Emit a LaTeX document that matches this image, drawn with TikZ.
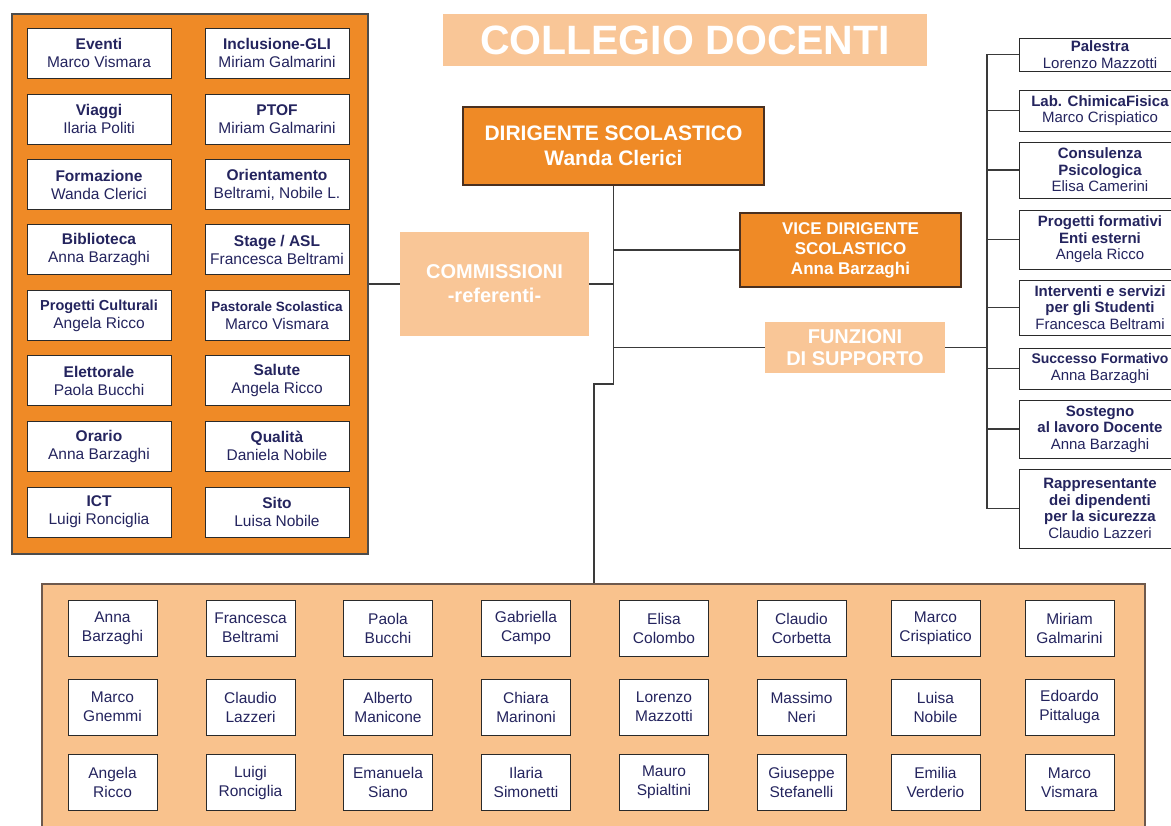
\documentclass[tikz,border=0pt]{standalone}
\usepackage{fontspec}
\setmainfont{Liberation Sans}
\definecolor{orangeA}{HTML}{EF8A26}
\definecolor{peach}{HTML}{F9C28D}
\definecolor{peachL}{HTML}{F9C697}
\definecolor{navy}{HTML}{24245E}
\definecolor{linec}{HTML}{3A3A3A}
\definecolor{boxl}{HTML}{2A2A2A}
\definecolor{darkbrd}{HTML}{4A3020}
\begin{document}
\begin{tikzpicture}[x=1pt,y=-1pt,
  conn/.style={draw=linec, line width=1.3pt},
  lbox/.style={draw=boxl, fill=white, line width=0.9pt, minimum width=144pt, minimum height=50pt, inner sep=0pt, align=center, text=navy, font=\fontsize{15.5}{18}\selectfont},
  rbox/.style={draw=boxl, fill=white, line width=0.9pt, minimum width=162pt, inner sep=0pt, align=center, text=navy, font=\fontsize{15}{16.6}\selectfont},
  nbox/.style={draw=boxl, fill=white, line width=0.9pt, minimum width=89pt, minimum height=56pt, inner sep=0pt, align=center, text=navy, font=\fontsize{15.5}{19}\selectfont},
  headbox/.style={fill=orangeA, draw=darkbrd, line width=1.2pt, text=white, align=center, inner sep=0pt},
  softbox/.style={fill=peachL, text=white, align=center, inner sep=0pt}
]
\fill[white] (0,0) rectangle (1171,826);
\useasboundingbox (0,0) rectangle (1171,826);

\newcommand{\lbx}[5]{\node[lbox] (#1) at (#2,#3) {\textbf{#4}\\#5};}
\newcommand{\nbx}[5]{\node[nbox] (#1) at (#2,#3) {#4\\#5};}

% panels
\node[draw=black!70, line width=1.3pt, fill=orangeA, minimum width=356pt, minimum height=540pt, inner sep=0pt] (lp) at (190,284) {};
\node[draw=darkbrd!80, line width=1.3pt, fill=peach, minimum width=1103pt, minimum height=256pt, inner sep=0pt] (bp) at (593.5,712) {};

% title
\node[softbox, minimum width=484pt, minimum height=52pt, font=\bfseries\fontsize{41}{41}\selectfont] (title) at (685,40) {COLLEGIO DOCENTI};

% left boxes
\lbx{L1}{99}{53}{Eventi}{Marco Vismara}
\lbx{L2}{99}{119}{Viaggi}{Ilaria Politi}
\lbx{L3}{99}{184.5}{Formazione}{Wanda Clerici}
\lbx{L4}{99}{249.5}{Biblioteca}{Anna Barzaghi}
\node[lbox] (L5) at (99,315.5) {{\bfseries\fontsize{14.5}{18}\selectfont Progetti Culturali}\\Angela Ricco};
\lbx{L6}{99}{380.5}{Elettorale}{Paola Bucchi}
\lbx{L7}{99}{446}{Orario}{Anna Barzaghi}
\lbx{L8}{99}{512}{ICT}{Luigi Ronciglia}
\lbx{L9}{277}{53}{Inclusione-GLI}{Miriam Galmarini}
\lbx{L10}{277}{119}{PTOF}{Miriam Galmarini}
\lbx{L11}{277}{184.5}{Orientamento}{Beltrami, Nobile L.}
\lbx{L12}{277}{249.5}{Stage / ASL}{Francesca Beltrami}
\node[lbox] (L13) at (277,315.5) {{\bfseries\fontsize{13.5}{18}\selectfont Pastorale Scolastica}\\Marco Vismara};
\lbx{L14}{277}{380.5}{Salute}{Angela Ricco}
\lbx{L15}{277}{446}{Qualità}{Daniela Nobile}
\lbx{L16}{277}{512}{Sito}{Luisa Nobile}

% central boxes
\node[headbox, minimum width=301pt, minimum height=78pt, font=\bfseries\fontsize{21}{25}\selectfont] (dir) at (613.5,146) {DIRIGENTE SCOLASTICO\\Wanda Clerici};
\node[headbox, minimum width=221pt, minimum height=74pt, font=\bfseries\fontsize{17}{20}\selectfont] (vice) at (850.5,250) {VICE DIRIGENTE\\SCOLASTICO\\Anna Barzaghi};
\node[softbox, minimum width=189pt, minimum height=104pt, font=\bfseries\fontsize{20}{24}\selectfont] (com) at (494.5,284) {COMMISSIONI\\-referenti-};
\node[softbox, minimum width=180pt, minimum height=51pt, font=\bfseries\fontsize{20}{22}\selectfont] (fun) at (855,347.5) {FUNZIONI\\DI SUPPORTO};

% right boxes
\node[rbox, minimum height=33pt] (R1) at (1100,54.5) {\textbf{Palestra}\\Lorenzo Mazzotti};
\node[rbox, minimum height=41pt] (R2) at (1100,110.5) {\textbf{Lab. ChimicaFisica}\\Marco Crispiatico};
\node[rbox, minimum height=56pt] (R3) at (1100,170) {\textbf{Consulenza}\\\textbf{Psicologica}\\Elisa Camerini};
\node[rbox, minimum height=59pt] (R4) at (1100,239.5) {\textbf{Progetti formativi}\\\textbf{Enti esterni}\\Angela Ricco};
\node[rbox, minimum height=55pt] (R5) at (1100,307.5) {\textbf{Interventi e servizi}\\\textbf{per gli Studenti}\\Francesca Beltrami};
\node[rbox, minimum height=41pt] (R6) at (1100,368.5) {{\bfseries\fontsize{14}{16.6}\selectfont Successo Formativo}\\Anna Barzaghi};
\node[rbox, minimum height=58pt] (R7) at (1100,429) {\textbf{Sostegno}\\\textbf{al lavoro Docente}\\Anna Barzaghi};
\node[rbox, minimum height=79pt] (R8) at (1100,508.5) {\textbf{Rappresentante}\\\textbf{dei dipendenti}\\\textbf{per la sicurezza}\\Claudio Lazzeri};

% bottom names
\nbx{B1}{112.5}{628}{Anna}{Barzaghi}
\nbx{B2}{250.5}{628}{Francesca}{Beltrami}
\nbx{B3}{388}{628}{Paola}{Bucchi}
\nbx{B4}{526}{628}{Gabriella}{Campo}
\nbx{B5}{664}{628}{Elisa}{Colombo}
\nbx{B6}{801.5}{628}{Claudio}{Corbetta}
\nbx{B7}{935.5}{628}{Marco}{Crispiatico}
\nbx{B8}{1069.5}{628}{Miriam}{Galmarini}
\nbx{B9}{112.5}{707}{Marco}{Gnemmi}
\nbx{B10}{250.5}{707}{Claudio}{Lazzeri}
\nbx{B11}{388}{707}{Alberto}{Manicone}
\nbx{B12}{526}{707}{Chiara}{Marinoni}
\nbx{B13}{664}{707}{Lorenzo}{Mazzotti}
\nbx{B14}{801.5}{707}{Massimo}{Neri}
\nbx{B15}{935.5}{707}{Luisa}{Nobile}
\nbx{B16}{1069.5}{707}{Edoardo}{Pittaluga}
\nbx{B17}{112.5}{782.5}{Angela}{Ricco}
\nbx{B18}{250.5}{782.5}{Luigi}{Ronciglia}
\nbx{B19}{388}{782.5}{Emanuela}{Siano}
\nbx{B20}{526}{782.5}{Ilaria}{Simonetti}
\nbx{B21}{664}{782.5}{Mauro}{Spialtini}
\nbx{B22}{801.5}{782.5}{Giuseppe}{Stefanelli}
\nbx{B23}{935.5}{782.5}{Emilia}{Verderio}
\nbx{B24}{1069.5}{782.5}{Marco}{Vismara}

% connectors
\coordinate (j1) at (613.5,384);
\coordinate (j2) at (594,384);
\coordinate (brk) at (987,0);
\draw[conn] (dir.south) -- (j1) -- (j2) -- (j2 |- bp.north);
\draw[conn] (com.east) -- (com.east -| dir.south);
\draw[conn] (lp.east |- com.west) -- (com.west);
\draw[conn] (vice.west -| dir.south) -- (vice.west);
\draw[conn] (fun.west -| dir.south) -- (fun.west);
\draw[conn] (fun.east) -- (fun.east -| brk);
\draw[conn] (R1.west -| brk) -- (R8.west -| brk);
\foreach \r in {R1,R2,R3,R4,R5,R6,R7,R8}
  \draw[conn] (\r.west -| brk) -- (\r.west);
\end{tikzpicture}
\end{document}
